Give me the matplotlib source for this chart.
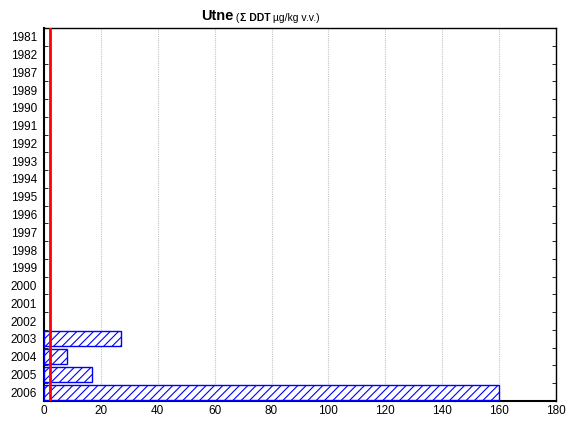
import matplotlib.pyplot as plt
import numpy as np

plt.rcParams['font.family'] = ['Liberation Sans', 'DejaVu Sans']
plt.rcParams['hatch.linewidth'] = 0.8

years = ['1981', '1982', '1987', '1989', '1990', '1991', '1992', '1993', '1994',
         '1995', '1996', '1997', '1998', '1999', '2000', '2001', '2002', '2003',
         '2004', '2005', '2006']
values = [0, 0, 0, 0, 0, 0, 0, 0, 0, 0, 0, 0, 0, 0, 0, 0, 0, 27, 8, 17, 160]
limit = 2

fig = plt.figure(figsize=(5.77, 4.23), dpi=100)
ax = fig.add_axes([44/577, 1 - 401/423, 512/577, 373/423])

pos = np.arange(len(years))
mask = np.array(values) > 0
ax.barh(pos[mask], np.array(values)[mask], height=0.85, color='white',
        edgecolor='#0000ff', hatch='////', linewidth=1, zorder=3)
ax.axvline(limit, color='#ff0000', lw=2, zorder=4)

ax.set_xlim(0, 180)
ax.set_ylim(len(years) - 0.5, -0.5)
ax.set_xticks(np.arange(0, 181, 20))
ax.set_yticks(pos)
ax.set_yticklabels(years)
ax.set_yticks(np.arange(-0.5, len(years), 1), minor=True)
ax.tick_params(axis='y', which='major', length=0, labelsize=8.5, pad=5)
ax.tick_params(axis='y', which='minor', direction='in', length=3, left=True, right=True)
ax.tick_params(axis='x', length=0, labelsize=8.5, pad=3)
ax.grid(axis='x', color='#c4c4c4', lw=0.8, ls=(0, (1, 1)), zorder=0)
for s in ax.spines.values():
    s.set_linewidth(1)
ax.spines['left'].set_linewidth(1.5)
ax.spines['bottom'].set_linewidth(1.5)

t1 = fig.text(201/577, 1 - 16/423, 'Utne', fontsize=10.5, fontweight='bold', va='center')
t2 = ax.annotate(' (', xycoords=t1, xy=(1, 0), va='bottom', fontsize=7.5)
t3 = ax.annotate('\u03a3 DDT', xycoords=t2, xy=(1, 0), va='bottom', fontsize=7.5, fontweight='bold')
t4 = ax.annotate(' \u00b5g/kg v.v.)', xycoords=t3, xy=(1, 0), va='bottom', fontsize=7.5)

fig.savefig('out.png', dpi=100)
